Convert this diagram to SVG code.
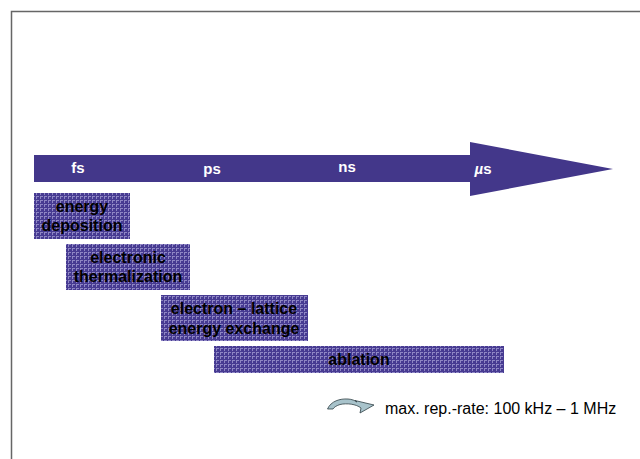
<svg xmlns="http://www.w3.org/2000/svg" width="640" height="459" viewBox="0 0 640 459">
<defs>
<pattern id="dots" width="4" height="4" patternUnits="userSpaceOnUse">
<rect width="4" height="4" fill="#473b92"/>
<rect x="0" y="0" width="3" height="1" fill="#8e86c4"/>
<rect x="0" y="0" width="1" height="3" fill="#8e86c4"/>
</pattern>
<style>
.box{fill:url(#dots);stroke:none}
.bt{font-family:"Liberation Sans",Arial,sans-serif;font-weight:bold;font-size:16px;fill:#000;text-anchor:middle}
.at{font-family:"Liberation Sans",Arial,sans-serif;font-weight:bold;font-size:15px;fill:#fff;text-anchor:middle}
</style>
</defs>
<rect width="640" height="459" fill="#fff"/>
<path d="M11.5 459 V11.5 H640" fill="none" stroke="#666" stroke-width="1.5"/>
<g id="timeline">
<polygon points="34,155 470,155 470,142 613,169 470,196 470,182 34,182" fill="#43378a"/>
<text class="at" x="78" y="173">fs</text>
<text class="at" x="212" y="174">ps</text>
<text class="at" x="347" y="172">ns</text>
<text class="at" x="483" y="174"><tspan font-style="italic">µ</tspan>s</text>
</g>
<g id="energy-deposition">
<rect class="box" x="34" y="193" width="96" height="46"/>
<text class="bt" x="82" y="212">energy</text>
<text class="bt" x="82" y="231">deposition</text>
</g>
<g id="electronic-thermalization">
<rect class="box" x="66" y="244" width="124" height="46"/>
<text class="bt" x="128" y="263">electronic</text>
<text class="bt" x="128" y="282">thermalization</text>
</g>
<g id="electron-lattice">
<rect class="box" x="161" y="295" width="147" height="46"/>
<text class="bt" x="234" y="314">electron – lattice</text>
<text class="bt" x="234" y="334">energy exchange</text>
</g>
<g id="ablation">
<rect class="box" x="214" y="346" width="290" height="27"/>
<text class="bt" x="359" y="365">ablation</text>
</g>
<g id="rep-rate">
<path d="M327.5 409 C331 401,340 398.5,348 399 C352 399.3,355 400.5,357 402 L355 400.5 L374 405 L360 413 L361 408 C356 404,347 403,340 404.5 C337 405.5,334 407,333 409 Z" fill="#a8c3cb" stroke="#2f3f44" stroke-width="0.8" stroke-linejoin="round"/>
<text x="385" y="414" font-family="'Liberation Sans',Arial,sans-serif" font-size="16" fill="#000">max. rep.-rate: 100 kHz – 1 MHz</text>
</g>
</svg>
